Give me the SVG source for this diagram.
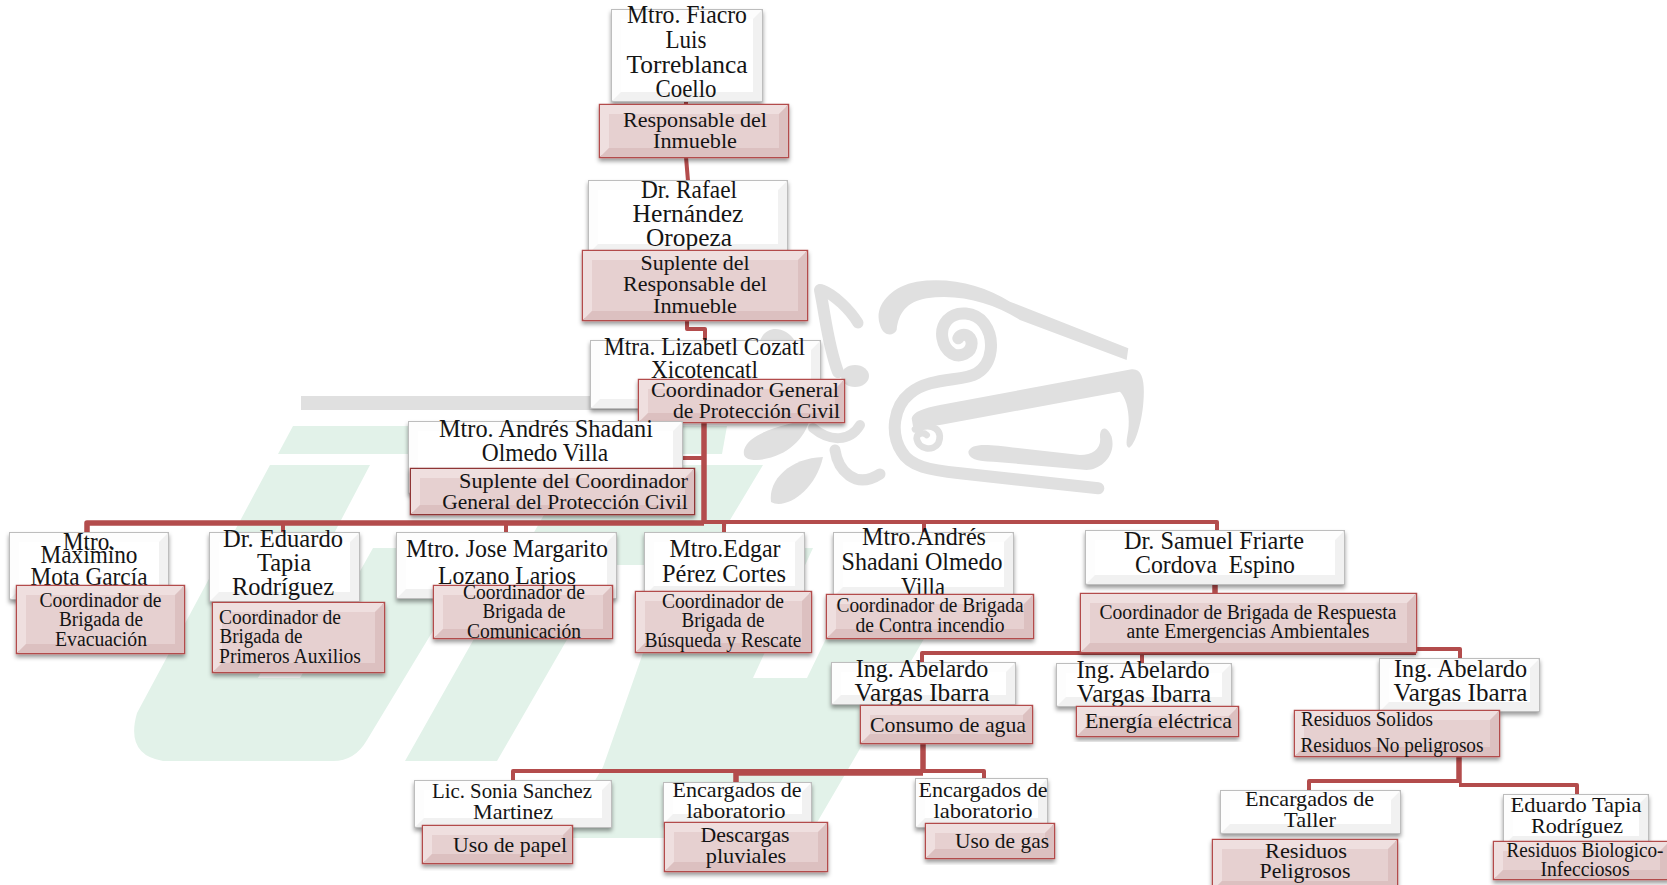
<svg xmlns="http://www.w3.org/2000/svg" width="1667" height="885" viewBox="0 0 1667 885">
<style>
text{font-family:"Liberation Serif","Times New Roman",serif;text-anchor:middle;fill:#141414}
.a{font-size:25px}.b{font-size:22px}.c{font-size:20.5px}
.wb{fill:#fff;stroke:#bdbdbd;stroke-width:2;filter:url(#sh)}
.rb{fill:#e6d0d0;stroke:#b34c4c;stroke-width:2.5;filter:url(#sh)}
.wl{fill:#fdfdfd}.wd{fill:#f1f1f1}.rl{fill:#efdfdf}.rd{fill:#dcc0c0}
.g{fill:#e2f2e9}.k{fill:#e0e0e0}.ks{fill:none;stroke:#e0e0e0;stroke-linecap:round;stroke-linejoin:round}
#connectors path{fill:none;stroke:#b34c4c;stroke-width:4;stroke-linejoin:round}
#connectors path.t{stroke-width:5.500px}
</style>
<defs><filter id="sh" x="-10%" y="-15%" width="120%" height="135%"><feDropShadow dx="0" dy="3" stdDeviation="2" flood-color="#000" flood-opacity=".4"/></filter></defs>
<rect width="1667" height="885" fill="#fff"/>
<g id="watermark">
<path class="g" d="M293 426H727L722 454H278Z"/>
<path class="g" d="M270 465H370L258 678H300L373 548H483L367 740Q355 761 333 761H163Q125 755 137 713Z"/>
<path class="g" d="M572 465H763L703 565H610L497 761H405Z"/>
<path class="g" d="M561 838L603 767L643 653L700 600L760 548H813L753 678H807L835 620H935L808 838Z"/>
<rect class="k" x="301" y="396" width="400" height="14"/>
<path class="ks" stroke-width="12" d="M820 290C826 320 828 345 838 372"/>
<path class="ks" stroke-width="11" d="M822 290C835 295 850 310 858 323"/>
<ellipse class="k" cx="855" cy="376" rx="14" ry="11"/>
<path class="k" d="M760 341C765 325 785 325 795 341Z"/>
<path class="k" d="M744 450C750 430 790 425 810 418C805 440 785 458 757 460C745 460 743 456 744 450Z"/>
<path class="k" d="M823 457C790 458 768 480 771 502C785 510 815 492 823 457Z"/>
<path class="ks" stroke-width="10" d="M813 428C830 442 850 442 860 425"/>
<path class="ks" stroke-width="11" d="M835 450C838 470 855 490 880 474"/>
<g transform="translate(860 270) scale(.3333)">
<path class="k" d="M60 165C40 110 90 50 170 35C270 20 370 45 450 95L805 235L800 270L480 150C400 100 300 70 200 85C140 95 115 130 110 180C100 200 70 200 60 165Z"/>
<path class="ks" stroke-width="36" d="M295 205C305 185 335 195 335 220C335 250 300 265 275 250C245 230 235 180 262 150C290 120 345 125 372 160C405 205 400 280 350 310C310 335 210 320 150 370C100 410 90 490 125 545C150 590 210 600 300 610L715 655"/>
<path class="k" d="M155 445C160 425 190 415 240 405L815 298C850 295 855 340 850 400C845 460 825 525 808 533C795 530 800 510 805 480C810 430 800 385 780 365L240 465C200 470 175 470 160 475Z"/>
<path class="ks" stroke-width="20" d="M165 478C220 455 250 480 235 520C220 545 175 540 170 505C170 490 190 485 200 495"/>
<path class="k" d="M325 545C335 520 370 520 480 535L660 555C700 555 725 535 720 500C720 470 740 465 755 500C770 560 720 600 680 600L400 575C350 575 325 565 325 545Z"/>
</g>
</g>
<g id="connectors">
<path d="M686 101V157L688 181"/>
<path d="M687 320V329H705V341"/>
<path class="t" d="M704 422V524"/>
<path d="M682 458H704"/>
<path class="t" d="M87 533V523H704"/>
<path d="M704 522H1217V531"/>
<path d="M283 523V533M506 523V533M724 523V533M924 523V533"/>
<path class="t" d="M1215 584V655"/>
<path d="M922 662V653H1416"/>
<path d="M1416 649H1460V659"/>
<path d="M1142 653V664"/>
<path class="t" d="M923 743V773"/>
<path d="M513 781V771H984V780"/>
<path class="t" d="M736 783V773H923"/>
<path class="t" d="M1459 756V783"/>
<path d="M1309 790V781H1459"/>
<path d="M1459 785H1577V795"/>
</g>
<g id="n1"><rect class="wb" x="612" y="10" width="150" height="91"/><path class="wl" d="M612 10h150l-9 9h-132v73l-9 9z"/><path class="wd" d="M762 101h-150l9-9h132v-73l9-9z"/>
<text class="a" x="687" y="23" textLength="120" lengthAdjust="spacingAndGlyphs">Mtro. Fiacro</text><text class="a" x="686" y="48" textLength="41" lengthAdjust="spacingAndGlyphs">Luis</text><text class="a" x="687" y="73" textLength="121" lengthAdjust="spacingAndGlyphs">Torreblanca</text><text class="a" x="686" y="97" textLength="61" lengthAdjust="spacingAndGlyphs">Coello</text>
<rect class="rb" x="600" y="105" width="188" height="52"/><path class="rl" d="M600 105h188l-9 9h-170v34l-9 9z"/><path class="rd" d="M788 157h-188l9-9h170v-34l9-9z"/>
<text class="b" x="695" y="127" textLength="144" lengthAdjust="spacingAndGlyphs">Responsable del</text><text class="b" x="695" y="148" textLength="84" lengthAdjust="spacingAndGlyphs">Inmueble</text></g>
<g id="n2"><rect class="wb" x="589" y="181" width="198" height="72"/><path class="wl" d="M589 181h198l-9 9h-180v54l-9 9z"/><path class="wd" d="M787 253h-198l9-9h180v-54l9-9z"/>
<text class="a" x="689" y="198" textLength="96" lengthAdjust="spacingAndGlyphs">Dr. Rafael</text><text class="a" x="688" y="222" textLength="111" lengthAdjust="spacingAndGlyphs">Hernández</text><text class="a" x="689" y="246" textLength="86" lengthAdjust="spacingAndGlyphs">Oropeza</text>
<rect class="rb" x="583" y="251" width="224" height="69"/><path class="rl" d="M583 251h224l-9 9h-206v51l-9 9z"/><path class="rd" d="M807 320h-224l9-9h206v-51l9-9z"/>
<text class="b" x="695" y="270" textLength="109" lengthAdjust="spacingAndGlyphs">Suplente del</text><text class="b" x="695" y="291" textLength="144" lengthAdjust="spacingAndGlyphs">Responsable del</text><text class="b" x="695" y="313" textLength="84" lengthAdjust="spacingAndGlyphs">Inmueble</text></g>
<g id="n3"><rect class="wb" x="591" y="341" width="229" height="67"/><path class="wl" d="M591 341h229l-9 9h-211v49l-9 9z"/><path class="wd" d="M820 408h-229l9-9h211v-49l9-9z"/>
<text class="a" x="704.500" y="355" textLength="201" lengthAdjust="spacingAndGlyphs">Mtra. Lizabetl Cozatl</text><text class="a" x="704.500" y="378" textLength="107" lengthAdjust="spacingAndGlyphs">Xicotencatl</text>
<rect class="rb" x="639" y="380" width="205" height="42"/><path class="rl" d="M639 380h205l-9 9h-187v24l-9 9z"/><path class="rd" d="M844 422h-205l9-9h187v-24l9-9z"/>
<text class="b" x="745" y="397" textLength="188" lengthAdjust="spacingAndGlyphs">Coordinador General</text><text class="b" x="756.500" y="418" textLength="167" lengthAdjust="spacingAndGlyphs">de Protección Civil</text></g>
<g id="n4"><rect class="wb" x="409" y="422" width="273" height="71"/><path class="wl" d="M409 422h273l-9 9h-255v53l-9 9z"/><path class="wd" d="M682 493h-273l9-9h255v-53l9-9z"/>
<text class="a" x="546" y="437" textLength="214" lengthAdjust="spacingAndGlyphs">Mtro. Andrés Shadani</text><text class="a" x="545" y="461" textLength="126.500" lengthAdjust="spacingAndGlyphs">Olmedo Villa</text>
<rect class="rb" x="411" y="469" width="283" height="45" style="stroke:#8f3434"/><path class="rl" d="M411 469h283l-9 9h-265v27l-9 9z"/><path class="rd" d="M694 514h-283l9-9h265v-27l9-9z"/>
<text class="b" x="573.500" y="488" textLength="229" lengthAdjust="spacingAndGlyphs">Suplente del Coordinador</text><text class="b" x="565" y="509" textLength="245.500" lengthAdjust="spacingAndGlyphs">General del Protección Civil</text></g>
<g id="n5"><rect class="wb" x="10" y="533" width="158" height="66"/><path class="wl" d="M10 533h158l-9 9h-140v48l-9 9z"/><path class="wd" d="M168 599h-158l9-9h140v-48l9-9z"/>
<text class="a" x="89" y="550" textLength="52" lengthAdjust="spacingAndGlyphs">Mtro.</text><text class="a" x="89" y="563" textLength="97" lengthAdjust="spacingAndGlyphs">Maximino</text><text class="a" x="89" y="585" textLength="117" lengthAdjust="spacingAndGlyphs">Mota García</text>
<rect class="rb" x="17" y="586" width="167" height="67"/><path class="rl" d="M17 586h167l-9 9h-149v49l-9 9z"/><path class="rd" d="M184 653h-167l9-9h149v-49l9-9z"/>
<text class="c" x="100.500" y="607" textLength="122" lengthAdjust="spacingAndGlyphs">Coordinador de</text><text class="c" x="101" y="626" textLength="84" lengthAdjust="spacingAndGlyphs">Brigada de</text><text class="c" x="101" y="646" textLength="92" lengthAdjust="spacingAndGlyphs">Evacuación</text></g>
<g id="n6"><rect class="wb" x="210" y="533" width="149" height="68"/><path class="wl" d="M210 533h149l-9 9h-131v50l-9 9z"/><path class="wd" d="M359 601h-149l9-9h131v-50l9-9z"/>
<text class="a" x="283" y="547" textLength="120" lengthAdjust="spacingAndGlyphs">Dr. Eduardo</text><text class="a" x="284" y="571" textLength="54" lengthAdjust="spacingAndGlyphs">Tapia</text><text class="a" x="283" y="595" textLength="102" lengthAdjust="spacingAndGlyphs">Rodríguez</text>
<rect class="rb" x="213" y="603" width="171" height="69"/><path class="rl" d="M213 603h171l-9 9h-153v51l-9 9z"/><path class="rd" d="M384 672h-171l9-9h153v-51l9-9z"/>
<text class="c" x="280" y="624" textLength="122" lengthAdjust="spacingAndGlyphs">Coordinador de</text><text class="c" x="261" y="643" textLength="83" lengthAdjust="spacingAndGlyphs">Brigada de</text><text class="c" x="290" y="663" textLength="142" lengthAdjust="spacingAndGlyphs">Primeros Auxilios</text></g>
<g id="n7"><rect class="wb" x="397" y="533" width="219" height="65"/><path class="wl" d="M397 533h219l-9 9h-201v47l-9 9z"/><path class="wd" d="M616 598h-219l9-9h201v-47l9-9z"/>
<text class="a" x="507" y="557" textLength="202" lengthAdjust="spacingAndGlyphs">Mtro. Jose Margarito</text><text class="a" x="507" y="584" textLength="138" lengthAdjust="spacingAndGlyphs">Lozano Larios</text>
<rect class="rb" x="434" y="586" width="178" height="52"/><path class="rl" d="M434 586h178l-9 9h-160v34l-9 9z"/><path class="rd" d="M612 638h-178l9-9h160v-34l9-9z"/>
<text class="c" x="524" y="599" textLength="122" lengthAdjust="spacingAndGlyphs">Coordinador de</text><text class="c" x="524" y="618" textLength="83" lengthAdjust="spacingAndGlyphs">Brigada de</text><text class="c" x="524" y="638" textLength="114" lengthAdjust="spacingAndGlyphs">Comunicación</text></g>
<g id="n8"><rect class="wb" x="645" y="533" width="159" height="62"/><path class="wl" d="M645 533h159l-9 9h-141v44l-9 9z"/><path class="wd" d="M804 595h-159l9-9h141v-44l9-9z"/>
<text class="a" x="725" y="557" textLength="111" lengthAdjust="spacingAndGlyphs">Mtro.Edgar</text><text class="a" x="724" y="582" textLength="124" lengthAdjust="spacingAndGlyphs">Pérez Cortes</text>
<rect class="rb" x="636" y="592" width="175" height="60"/><path class="rl" d="M636 592h175l-9 9h-157v42l-9 9z"/><path class="rd" d="M811 652h-175l9-9h157v-42l9-9z"/>
<text class="c" x="723" y="608" textLength="122" lengthAdjust="spacingAndGlyphs">Coordinador de</text><text class="c" x="723" y="627" textLength="83" lengthAdjust="spacingAndGlyphs">Brigada de</text><text class="c" x="723" y="647" textLength="157" lengthAdjust="spacingAndGlyphs">Búsqueda y Rescate</text></g>
<g id="n9"><rect class="wb" x="834" y="533" width="179" height="63"/><path class="wl" d="M834 533h179l-9 9h-161v45l-9 9z"/><path class="wd" d="M1013 596h-179l9-9h161v-45l9-9z"/>
<text class="a" x="924" y="545" textLength="124" lengthAdjust="spacingAndGlyphs">Mtro.Andrés</text><text class="a" x="922" y="570" textLength="161" lengthAdjust="spacingAndGlyphs">Shadani Olmedo</text><text class="a" x="923" y="595" textLength="44" lengthAdjust="spacingAndGlyphs">Villa</text>
<rect class="rb" x="827" y="595" width="206" height="43"/><path class="rl" d="M827 595h206l-9 9h-188v25l-9 9z"/><path class="rd" d="M1033 638h-206l9-9h188v-25l9-9z"/>
<text class="c" x="930" y="612" textLength="187" lengthAdjust="spacingAndGlyphs">Coordinador de Brigada</text><text class="c" x="930" y="632" textLength="149" lengthAdjust="spacingAndGlyphs">de Contra incendio</text></g>
<g id="n10"><rect class="wb" x="1086" y="531" width="258" height="53"/><path class="wl" d="M1086 531h258l-9 9h-240v35l-9 9z"/><path class="wd" d="M1344 584h-258l9-9h240v-35l9-9z"/>
<text class="a" x="1214" y="549" textLength="180" lengthAdjust="spacingAndGlyphs">Dr. Samuel Friarte</text><text class="a" x="1215" y="573" textLength="160" lengthAdjust="spacingAndGlyphs" style="white-space:pre">Cordova  Espino</text>
<rect class="rb" x="1081" y="594" width="335" height="58"/><path class="rl" d="M1081 594h335l-9 9h-317v40l-9 9z"/><path class="rd" d="M1416 652h-335l9-9h317v-40l9-9z"/>
<text class="c" x="1248" y="619" textLength="297" lengthAdjust="spacingAndGlyphs">Coordinador de Brigada de Respuesta</text><text class="c" x="1248" y="638" textLength="243" lengthAdjust="spacingAndGlyphs">ante Emergencias Ambientales</text></g>
<g id="n11"><rect class="wb" x="832" y="663" width="183" height="41"/><path class="wl" d="M832 663h183l-9 9h-165v23l-9 9z"/><path class="wd" d="M1015 704h-183l9-9h165v-23l9-9z"/>
<text class="a" x="922" y="677" textLength="132.500" lengthAdjust="spacingAndGlyphs">Ing. Abelardo</text><text class="a" x="922" y="701" textLength="135" lengthAdjust="spacingAndGlyphs">Vargas Ibarra</text>
<rect class="rb" x="861" y="706" width="171" height="37"/><path class="rl" d="M861 706h171l-9 9h-153v19l-9 9z"/><path class="rd" d="M1032 743h-171l9-9h153v-19l9-9z"/>
<text class="b" x="948" y="732" textLength="156" lengthAdjust="spacingAndGlyphs">Consumo de agua</text></g>
<g id="n12"><rect class="wb" x="1057" y="664" width="174" height="42"/><path class="wl" d="M1057 664h174l-9 9h-156v24l-9 9z"/><path class="wd" d="M1231 706h-174l9-9h156v-24l9-9z"/>
<text class="a" x="1143" y="678" textLength="133" lengthAdjust="spacingAndGlyphs">Ing. Abelardo</text><text class="a" x="1144" y="702" textLength="134.500" lengthAdjust="spacingAndGlyphs">Vargas Ibarra</text>
<rect class="rb" x="1077" y="707" width="161" height="29"/><path class="rl" d="M1077 707h161l-9 9h-143v11l-9 9z"/><path class="rd" d="M1238 736h-161l9-9h143v-11l9-9z"/>
<text class="b" x="1158.500" y="728" textLength="147" lengthAdjust="spacingAndGlyphs">Energía eléctrica</text></g>
<g id="n13"><rect class="wb" x="1380" y="659" width="159" height="52"/><path class="wl" d="M1380 659h159l-9 9h-141v34l-9 9z"/><path class="wd" d="M1539 711h-159l9-9h141v-34l9-9z"/>
<text class="a" x="1460.500" y="677" textLength="133" lengthAdjust="spacingAndGlyphs">Ing. Abelardo</text><text class="a" x="1460.500" y="701" textLength="134" lengthAdjust="spacingAndGlyphs">Vargas Ibarra</text>
<rect class="rb" x="1295" y="711" width="204" height="45"/><path class="rl" d="M1295 711h204l-9 9h-186v27l-9 9z"/><path class="rd" d="M1499 756h-204l9-9h186v-27l9-9z"/>
<text class="c" x="1367" y="726" textLength="132" lengthAdjust="spacingAndGlyphs">Residuos Solidos</text><text class="c" x="1392" y="752" textLength="183" lengthAdjust="spacingAndGlyphs">Residuos No peligrosos</text></g>
<g id="n14"><rect class="wb" x="415" y="781" width="196" height="46"/><path class="wl" d="M415 781h196l-9 9h-178v28l-9 9z"/><path class="wd" d="M611 827h-196l9-9h178v-28l9-9z"/>
<text class="b" x="512" y="798" textLength="160" lengthAdjust="spacingAndGlyphs">Lic. Sonia Sanchez</text><text class="b" x="513" y="819" textLength="80" lengthAdjust="spacingAndGlyphs">Martinez</text>
<rect class="rb" x="423" y="826" width="149" height="37"/><path class="rl" d="M423 826h149l-9 9h-131v19l-9 9z"/><path class="rd" d="M572 863h-149l9-9h131v-19l9-9z"/>
<text class="b" x="510" y="852" textLength="114" lengthAdjust="spacingAndGlyphs">Uso de papel</text></g>
<g id="n15"><rect class="wb" x="664" y="783" width="147" height="40"/><path class="wl" d="M664 783h147l-9 9h-129v22l-9 9z"/><path class="wd" d="M811 823h-147l9-9h129v-22l9-9z"/>
<text class="b" x="737" y="797" textLength="129" lengthAdjust="spacingAndGlyphs">Encargados de</text><text class="b" x="736" y="818" textLength="99" lengthAdjust="spacingAndGlyphs">laboratorio</text>
<rect class="rb" x="665" y="823" width="162" height="48"/><path class="rl" d="M665 823h162l-9 9h-144v30l-9 9z"/><path class="rd" d="M827 871h-162l9-9h144v-30l9-9z"/>
<text class="b" x="745" y="842" textLength="89" lengthAdjust="spacingAndGlyphs">Descargas</text><text class="b" x="746" y="863" textLength="80.500" lengthAdjust="spacingAndGlyphs">pluviales</text></g>
<g id="n16"><rect class="wb" x="916" y="779" width="131" height="48"/><path class="wl" d="M916 779h131l-9 9h-113v30l-9 9z"/><path class="wd" d="M1047 827h-131l9-9h113v-30l9-9z"/>
<text class="b" x="983" y="797" textLength="129" lengthAdjust="spacingAndGlyphs">Encargados de</text><text class="b" x="983" y="818" textLength="99" lengthAdjust="spacingAndGlyphs">laboratorio</text>
<rect class="rb" x="926" y="824" width="128" height="34"/><path class="rl" d="M926 824h128l-9 9h-110v16l-9 9z"/><path class="rd" d="M1054 858h-128l9-9h110v-16l9-9z"/>
<text class="b" x="1002" y="848" textLength="94" lengthAdjust="spacingAndGlyphs">Uso de gas</text></g>
<g id="n17"><rect class="wb" x="1221" y="791" width="179" height="42"/><path class="wl" d="M1221 791h179l-9 9h-161v24l-9 9z"/><path class="wd" d="M1400 833h-179l9-9h161v-24l9-9z"/>
<text class="b" x="1309.500" y="806" textLength="129" lengthAdjust="spacingAndGlyphs">Encargados de</text><text class="b" x="1310" y="827" textLength="52" lengthAdjust="spacingAndGlyphs">Taller</text>
<rect class="rb" x="1213" y="840" width="184" height="50"/><path class="rl" d="M1213 840h184l-9 9h-166v32l-9 9z"/><path class="rd" d="M1397 890h-184l9-9h166v-32l9-9z"/>
<text class="b" x="1306" y="858" textLength="82" lengthAdjust="spacingAndGlyphs">Residuos</text><text class="b" x="1305" y="878" textLength="91" lengthAdjust="spacingAndGlyphs">Peligrosos</text></g>
<g id="n18"><rect class="wb" x="1504" y="795" width="144" height="50"/><path class="wl" d="M1504 795h144l-9 9h-126v32l-9 9z"/><path class="wd" d="M1648 845h-144l9-9h126v-32l9-9z"/>
<text class="b" x="1576" y="812" textLength="131" lengthAdjust="spacingAndGlyphs">Eduardo Tapia</text><text class="b" x="1577" y="833" textLength="92" lengthAdjust="spacingAndGlyphs">Rodríguez</text>
<rect class="rb" x="1494" y="842" width="175" height="37"/><path class="rl" d="M1494 842h175l-9 9h-157v19l-9 9z"/><path class="rd" d="M1669 879h-175l9-9h157v-19l9-9z"/>
<text class="c" x="1585" y="857" textLength="157" lengthAdjust="spacingAndGlyphs">Residuos Biologico-</text><text class="c" x="1585" y="876" textLength="89" lengthAdjust="spacingAndGlyphs">Infecciosos</text></g>
</svg>
